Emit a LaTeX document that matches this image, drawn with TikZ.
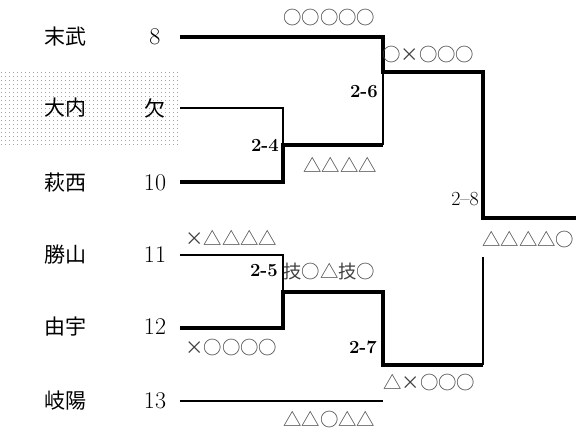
\documentclass[tikz,border=0pt]{standalone}
\usepackage{fontspec}
\newfontfamily\jp{Noto Sans CJK JP}
\newcommand\fw[1]{\makebox[1em]{#1}}
\tikzset{
  win/.style={line width=4.5bp, line join=miter, line cap=butt},
  lose/.style={line width=1.4bp, line join=miter},
  team/.style={font=\jp\fontsize{21bp}{24bp}\selectfont, inner sep=0},
  seed/.style={font=\fontsize{24bp}{28bp}\selectfont, inner sep=0},
  marks/.style={font=\jp\fontsize{18.4bp}{22bp}\selectfont, inner sep=0, text=black!75},
  game/.style={font=\bfseries\fontsize{18.5bp}{22bp}\selectfont, inner sep=0, anchor=east},
  gamen/.style={font=\fontsize{20bp}{24bp}\selectfont, inner sep=0, anchor=east},
}
\begin{document}
\begin{tikzpicture}[x=1bp, y=-1bp]
\useasboundingbox (0,0) rectangle (576,434);
% shaded bye row
\foreach \i in {0,...,44} {
  \foreach \j in {0,...,18} {
    \fill[black!55] (1.5+4*\i, 72.5+4*\j) circle[radius=0.42bp];
  }
}
% names
\node[team] (n1) at (65,37) {末武};
\node[team] (n2) at (65,108) {大内};
\node[team] (n3) at (65,183) {萩西};
\node[team] (n4) at (65,255) {勝山};
\node[team] (n5) at (65,327) {由宇};
\node[team] (n6) at (65,401) {岐陽};
% seeds
\node[seed] (s1) at (155,37) {8};
\node[team] (s2) at (155,108) {欠};
\node[seed] (s3) at (155,183) {10};
\node[seed] (s4) at (155,255) {11};
\node[seed] (s5) at (155,327) {12};
\node[seed] (s6) at (155,401) {13};
% bracket coordinates
\coordinate (a1) at (180,37);
\coordinate (a2) at (180,108);
\coordinate (a3) at (180,182);
\coordinate (a4) at (180,255);
\coordinate (a5) at (180,328);
\coordinate (a6) at (180,401);
\coordinate (j24) at (283,145);
\coordinate (e24) at (383,145);
\coordinate (j26) at (383,72);
\coordinate (j28) at (483,218);
\coordinate (fin) at (576,218);
\coordinate (j25) at (283,292);
\coordinate (j27) at (383,365);
\coordinate (e27) at (483,365);
\coordinate (t28) at (483,257);
\coordinate (e13) at (383,401);
% losing lines
\draw[lose] (a2) -| (j24);
\draw[lose] (e24) -- (j26);
\draw[lose] (a4) -| (j25);
\draw[lose] (e27) -- (t28);
\draw[lose] (a6) -- (e13);
% winning lines
\draw[win] (a1) -| (j26) -| (j28) -- (fin);
\draw[win] (a3) -| (j24) -- (e24);
\draw[win] (a5) -| (j25) -| (j27) -- (e27);
% game labels
\node[game] (g24) at (279,145) {2-4};
\node[game] (g26) at (378,92) {2-6};
\node[gamen] (g28) at (479,199) {2--8};
\node[game] (g25) at (278,271) {2-5};
\node[game] (g27) at (377,347) {2-7};
% result marks
\node[marks, anchor=west] (m1) at (283,18) {\fw{○}\fw{○}\fw{○}\fw{○}\fw{○}};
\node[marks, anchor=west] (m2) at (382,55) {\fw{○}\fw{×}\fw{○}\fw{○}\fw{○}};
\node[marks, anchor=west] (m3) at (303,165) {\fw{△}\fw{△}\fw{△}\fw{△}};
\node[marks, anchor=west] (m4) at (482,240) {\fw{△}\fw{△}\fw{△}\fw{△}\fw{○}};
\node[marks, anchor=west] (m5) at (185,238) {\fw{×}\fw{△}\fw{△}\fw{△}\fw{△}};
\node[marks, anchor=west] (m6) at (283,272) {\fw{技}\fw{○}\fw{△}\fw{技}\fw{○}};
\node[marks, anchor=west] (m7) at (185,348) {\fw{×}\fw{○}\fw{○}\fw{○}\fw{○}};
\node[marks, anchor=west] (m8) at (383,383) {\fw{△}\fw{×}\fw{○}\fw{○}\fw{○}};
\node[marks, anchor=west] (m9) at (283,420) {\fw{△}\fw{△}\fw{○}\fw{△}\fw{△}};
\end{tikzpicture}
\end{document}
